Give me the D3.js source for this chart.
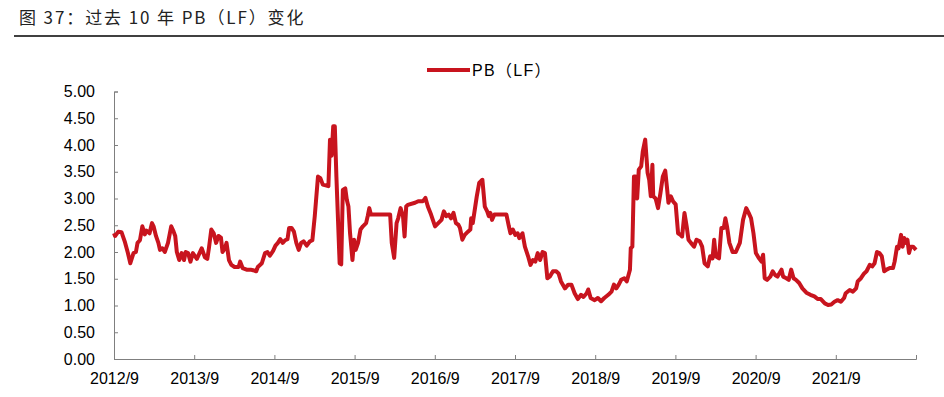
<!DOCTYPE html>
<html>
<head>
<meta charset="utf-8">
<script src="https://cdn.jsdelivr.net/npm/d3@7"></script>
<style>
  body { margin: 0; background: #fff; }
  text { font-family: "Liberation Sans", Arial, "Noto Sans CJK SC", sans-serif; }
</style>
</head>
<body>
<div id="chart"></div>
<script>
// fractional years (2012/9 = 2012.667)
var years = [
  2012.667, 2012.68, 2012.72, 2012.76, 2012.80, 2012.84, 2012.87, 2012.91, 2012.94, 2012.96,
  2012.99, 2013.02, 2013.05, 2013.07, 2013.11, 2013.14, 2013.16, 2013.19, 2013.22, 2013.24,
  2013.27, 2013.30, 2013.34, 2013.38, 2013.41, 2013.43, 2013.45, 2013.48, 2013.51, 2013.54,
  2013.56, 2013.59, 2013.62, 2013.65, 2013.70, 2013.73, 2013.76, 2013.80, 2013.83, 2013.85,
  2013.88, 2013.91, 2013.94, 2013.97, 2014.00, 2014.02, 2014.05, 2014.07, 2014.10, 2014.13,
  2014.17, 2014.22, 2014.24, 2014.27, 2014.32, 2014.37, 2014.40, 2014.44, 2014.46, 2014.51,
  2014.55, 2014.58, 2014.61, 2014.65, 2014.68, 2014.71, 2014.74, 2014.77, 2014.80, 2014.83,
  2014.85, 2014.88, 2014.91, 2014.94, 2014.97, 2015.00, 2015.03, 2015.07, 2015.11, 2015.14,
  2015.17, 2015.21, 2015.24, 2015.27, 2015.34, 2015.36, 2015.38, 2015.40, 2015.42, 2015.44,
  2015.48, 2015.50, 2015.52, 2015.55, 2015.57, 2015.59, 2015.61, 2015.64, 2015.66, 2015.68,
  2015.71, 2015.74, 2015.77, 2015.81, 2015.83, 2015.85, 2015.87, 2016.11, 2016.13, 2016.16,
  2016.19, 2016.21, 2016.24, 2016.27, 2016.29, 2016.31, 2016.33, 2016.42, 2016.46, 2016.52,
  2016.55, 2016.58, 2016.62, 2016.67, 2016.71, 2016.75, 2016.78, 2016.81, 2016.84, 2016.87,
  2016.90, 2016.93, 2016.96, 2016.98, 2017.01, 2017.04, 2017.08, 2017.11, 2017.12, 2017.14,
  2017.19, 2017.22, 2017.26, 2017.29, 2017.32, 2017.34, 2017.36, 2017.38, 2017.41, 2017.56,
  2017.59, 2017.61, 2017.64, 2017.67, 2017.70, 2017.72, 2017.76, 2017.79, 2017.83, 2017.86,
  2017.89, 2017.92, 2017.95, 2017.98, 2018.01, 2018.04, 2018.07, 2018.10, 2018.14, 2018.18,
  2018.21, 2018.24, 2018.29, 2018.33, 2018.37, 2018.41, 2018.45, 2018.49, 2018.52, 2018.56,
  2018.58, 2018.61, 2018.66, 2018.70, 2018.74, 2018.78, 2018.83, 2018.87, 2018.90, 2018.93,
  2018.96, 2018.99, 2019.03, 2019.06, 2019.10, 2019.11, 2019.13, 2019.15, 2019.17, 2019.19,
  2019.21, 2019.24, 2019.26, 2019.29, 2019.32, 2019.34, 2019.36, 2019.38, 2019.39, 2019.42,
  2019.45, 2019.48, 2019.51, 2019.54, 2019.56, 2019.58, 2019.61, 2019.64, 2019.67, 2019.70,
  2019.73, 2019.75, 2019.78, 2019.81, 2019.83, 2019.86, 2019.90, 2019.93, 2019.97, 2020.00,
  2020.03, 2020.07, 2020.10, 2020.13, 2020.15, 2020.17, 2020.21, 2020.24, 2020.27, 2020.29,
  2020.31, 2020.34, 2020.38, 2020.42, 2020.47, 2020.51, 2020.55, 2020.58, 2020.61, 2020.64,
  2020.67, 2020.71, 2020.74, 2020.76, 2020.78, 2020.81, 2020.85, 2020.88, 2020.91, 2020.94,
  2020.99, 2021.01, 2021.05, 2021.08, 2021.11, 2021.14, 2021.17, 2021.21, 2021.25, 2021.30,
  2021.35, 2021.40, 2021.44, 2021.48, 2021.53, 2021.57, 2021.61, 2021.65, 2021.69, 2021.73,
  2021.77, 2021.79, 2021.84, 2021.88, 2021.92, 2021.94, 2021.98, 2022.02, 2022.05, 2022.09,
  2022.12, 2022.15, 2022.18, 2022.21, 2022.24, 2022.27, 2022.30, 2022.34, 2022.38, 2022.40,
  2022.43, 2022.45, 2022.48, 2022.50, 2022.52, 2022.54, 2022.56, 2022.58, 2022.60, 2022.63,
  2022.667
];
var pb = [
  2.35, 2.30, 2.38, 2.37, 2.20, 1.98, 1.79, 1.98, 2.00, 2.17,
  2.22, 2.48, 2.33, 2.40, 2.35, 2.54, 2.48, 2.30, 2.17, 2.04,
  2.07, 2.00, 2.17, 2.48, 2.38, 2.30, 2.00, 1.85, 1.98, 1.85,
  2.00, 1.98, 1.82, 1.98, 1.87, 1.97, 2.07, 1.90, 1.87, 2.07,
  2.42, 2.35, 2.17, 2.30, 2.27, 2.00, 2.07, 2.17, 1.85, 1.76,
  1.72, 1.72, 1.82, 1.70, 1.67, 1.67, 1.66, 1.64, 1.72, 1.79,
  1.98, 2.00, 1.93, 2.02, 2.12, 2.17, 2.24, 2.17, 2.22, 2.24,
  2.45, 2.45, 2.38, 2.17, 2.04, 2.17, 2.20, 2.12, 2.20, 2.22,
  2.67, 3.41, 3.38, 3.26, 3.23, 4.10, 3.80, 4.35, 4.35, 3.40,
  1.79, 1.77, 3.16, 3.19, 2.97, 2.85, 2.35, 1.85, 2.23, 2.04,
  2.17, 2.42, 2.48, 2.54, 2.67, 2.82, 2.70, 2.70, 2.17, 1.89,
  2.54, 2.63, 2.82, 2.67, 2.29, 2.85, 2.88, 2.92, 2.95, 2.95,
  3.01, 2.85, 2.70, 2.48, 2.54, 2.60, 2.76, 2.67, 2.70, 2.63,
  2.73, 2.54, 2.51, 2.45, 2.23, 2.32, 2.38, 2.42, 2.63, 2.54,
  3.04, 3.29, 3.35, 2.85, 2.76, 2.67, 2.73, 2.60, 2.70, 2.70,
  2.48, 2.35, 2.42, 2.32, 2.35, 2.26, 2.35, 2.10, 1.92, 1.76,
  1.85, 1.82, 1.98, 1.85, 2.00, 1.98, 1.51, 1.54, 1.64, 1.64,
  1.60, 1.45, 1.32, 1.39, 1.39, 1.23, 1.12, 1.20, 1.16, 1.23,
  1.30, 1.14, 1.10, 1.14, 1.08, 1.14, 1.20, 1.26, 1.39, 1.32,
  1.39, 1.48, 1.51, 1.45, 1.67, 2.07, 2.10, 3.41, 3.41, 3.00,
  3.54, 3.60, 3.88, 4.10, 3.48, 3.35, 3.04, 3.63, 3.04, 3.00,
  2.82, 3.10, 3.41, 3.52, 3.23, 2.92, 3.04, 2.94, 2.89, 2.35,
  2.32, 2.29, 2.73, 2.45, 2.23, 2.17, 2.10, 2.23, 2.20, 2.10,
  1.79, 1.73, 1.92, 1.88, 2.23, 1.92, 1.88, 2.45, 2.45, 2.63,
  2.48, 2.17, 2.00, 2.00, 2.17, 2.60, 2.82, 2.73, 2.63, 2.35,
  1.98, 1.88, 1.82, 1.95, 1.51, 1.48, 1.54, 1.64, 1.57, 1.54,
  1.67, 1.54, 1.51, 1.48, 1.67, 1.51, 1.48, 1.42, 1.32, 1.24,
  1.20, 1.17, 1.12, 1.12, 1.04, 1.01, 1.02, 1.07, 1.10, 1.07,
  1.14, 1.23, 1.29, 1.26, 1.32, 1.45, 1.51, 1.60, 1.64, 1.76,
  1.73, 1.79, 2.00, 1.98, 1.92, 1.64, 1.67, 1.70, 1.70, 1.82,
  2.10, 2.07, 2.32, 2.10, 2.26, 2.17, 2.23, 1.98, 2.10, 2.10,
  2.04
];
var xTickYears = [2012, 2013, 2014, 2015, 2016, 2017, 2018, 2019, 2020, 2021, 2022];
var xTickLabels = ['2012/9', '2013/9', '2014/9', '2015/9', '2016/9', '2017/9', '2018/9', '2019/9', '2020/9', '2021/9', ''];
var yTicks = [0, 0.5, 1, 1.5, 2, 2.5, 3, 3.5, 4, 4.5, 5];

var W = 944, H = 397;
var plotL = 114, plotR = 916, plotT = 91.5, plotB = 359;
var red = '#C8141E';

var svg = d3.select('#chart').append('svg')
    .attr('width', W)
    .attr('height', H);

// title + rule
svg.append('text')
    .attr('x', 19)
    .attr('y', 24)
    .attr('font-size', 17)
    .attr('letter-spacing', 1.9)
    .attr('fill', '#222')
    .style('font-family', '"Noto Sans CJK SC", sans-serif')
    .text('图 37：过去 10 年 PB（LF）变化');
svg.append('line')
    .attr('x1', 14).attr('x2', W)
    .attr('y1', 36).attr('y2', 36)
    .attr('stroke', '#000')
    .attr('stroke-width', 1.5);

var x = d3.scaleLinear()
    .domain([2012 + 8 / 12, 2022 + 8 / 12])
    .range([plotL, plotR]);
var y = d3.scaleLinear()
    .domain([0, 5])
    .range([plotB, plotT]);

// y axis
var yAxis = svg.append('g')
    .attr('transform', 'translate(' + plotL + ',0)')
    .call(d3.axisRight(y).tickValues(yTicks).tickSize(4).tickFormat(d3.format('.2f')));
yAxis.select('.domain').attr('stroke', '#7f7f7f');
yAxis.selectAll('.tick line').attr('stroke', '#7f7f7f');
yAxis.selectAll('.tick text')
    .attr('x', -19)
    .attr('text-anchor', 'end')
    .attr('font-size', 16)
    .attr('fill', '#000')
    .style('font-family', '"Liberation Sans", Arial, sans-serif');

// x axis
var xAxis = svg.append('g')
    .attr('transform', 'translate(0,' + plotB + ')')
    .call(d3.axisTop(x)
        .tickValues(xTickYears.map(function(d){ return d + 8 / 12; }))
        .tickSize(4)
        .tickFormat(function(d, i){ return xTickLabels[i]; }));
xAxis.select('.domain').attr('stroke', '#7f7f7f');
xAxis.selectAll('.tick line').attr('stroke', '#7f7f7f');
xAxis.selectAll('.tick text')
    .attr('y', 25)
    .attr('font-size', 16)
    .attr('fill', '#000')
    .style('font-family', '"Liberation Sans", Arial, sans-serif');

// series
var data = years.map(function(d, i){ return { t: d, v: pb[i] }; });
var line = d3.line()
    .x(function(d){ return x(d.t); })
    .y(function(d){ return y(d.v); });
svg.append('path')
    .datum(data)
    .attr('d', line)
    .attr('fill', 'none')
    .attr('stroke', red)
    .attr('stroke-width', 4)
    .attr('stroke-linejoin', 'round');

// legend
svg.append('line')
    .attr('x1', 427).attr('x2', 470)
    .attr('y1', 70).attr('y2', 70)
    .attr('stroke', red)
    .attr('stroke-width', 4);
svg.append('text')
    .attr('x', 472)
    .attr('y', 76)
    .attr('font-size', 16)
    .attr('letter-spacing', 1.3)
    .attr('fill', '#000')
    .text('PB（LF）');
</script>
</body>
</html>
